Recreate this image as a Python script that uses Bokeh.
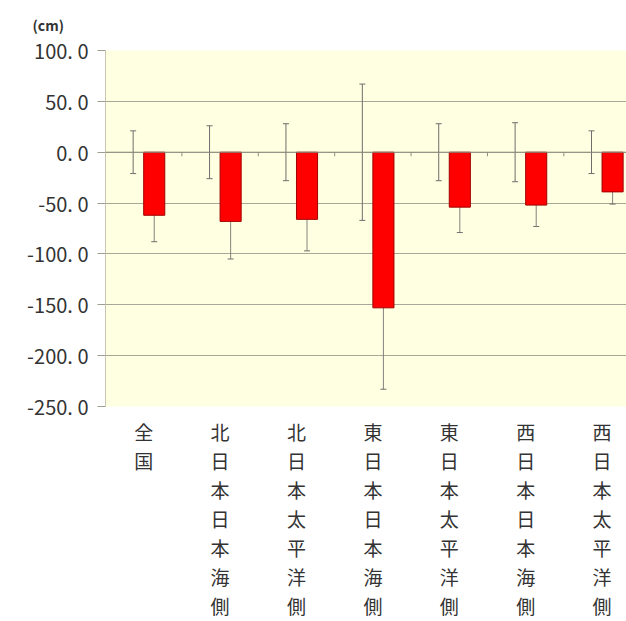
import numpy as np
from bokeh.plotting import figure
from bokeh.models import (ColumnDataSource, Range1d, FixedTicker, Whisker, TeeHead,
                          Span, Title)
from bokeh.embed import file_html
from bokeh.resources import INLINE

# ---- data ----
categories = ["全国", "北日本日本海側", "北日本太平洋側", "東日本日本海側",
              "東日本太平洋側", "西日本日本海側", "西日本太平洋側"]
normal_values = [0, 0, 0, 0, 0, 0, 0]
normal_err = [21, 26, 28, 67, 28, 29, 21]
anomaly_values = [-62, -68, -66, -153, -54, -52, -39]
anomaly_err = [26, 37, 31, 80, 25, 21, 12]
y_ticks = [-250, -200, -150, -100, -50, 0, 50, 100]
y_tick_labels = ["-250. 0", "-200. 0", "-150. 0", "-100. 0", "-50. 0", "0. 0", "50. 0", "100. 0"]
unit_label = "(cm)"

FONT = "Noto Sans CJK JP"
TEXT = "#333333"

idx = np.arange(len(categories)) + 0.5
offset = 0.138
src = ColumnDataSource(dict(
    cat=categories,
    x1=idx - offset,
    x2=idx + offset,
    normal=normal_values,
    n_lo=np.array(normal_values) - np.array(normal_err),
    n_hi=np.array(normal_values) + np.array(normal_err),
    anomaly=anomaly_values,
    a_lo=np.array(anomaly_values) - np.array(anomaly_err),
    a_hi=np.array(anomaly_values) + np.array(anomaly_err),
))

p = figure(width=626, height=621,
           x_range=Range1d(0, 6.82), y_range=Range1d(-250, 100),
           output_backend="svg", toolbar_location=None,
           min_border_left=105, min_border_top=50, min_border_right=0,
           min_border_bottom=215)

p.border_fill_color = "white"
p.background_fill_color = "#FFFFE1"
p.outline_line_color = None

# unit label above the axis
p.add_layout(Title(text=unit_label, align="left", offset=-73, standoff=27,
                   vertical_align="top",
                   text_font=FONT, text_font_size="14px", text_color=TEXT,
                   text_font_style="bold"), "above")

# grid
p.xgrid.grid_line_color = None
p.ygrid.ticker = FixedTicker(ticks=y_ticks)
p.ygrid.grid_line_color = "#A8A898"
p.ygrid.grid_line_width = 1

# y axis
p.yaxis.ticker = FixedTicker(ticks=y_ticks)
p.yaxis.major_label_overrides = {t: l for t, l in zip(y_ticks, y_tick_labels)}
p.yaxis.axis_line_color = "#C8C8B0"
p.yaxis.major_tick_line_color = "#A0A090"
p.yaxis.major_tick_out = 8
p.yaxis.major_tick_in = 0
p.yaxis.minor_tick_line_color = None
p.yaxis.major_label_standoff = 9
p.yaxis.major_label_text_font = FONT
p.yaxis.major_label_text_font_size = "20px"
p.yaxis.major_label_text_color = TEXT

# x axis: category labels written vertically
p.xaxis.ticker = FixedTicker(ticks=list(idx))
p.xaxis.major_label_overrides = {float(x): "\n".join(c) for x, c in zip(idx, categories)}
p.xaxis.axis_line_color = None
p.xaxis.major_tick_line_color = None
p.xaxis.major_tick_out = 0
p.xaxis.major_tick_in = 0
p.xaxis.minor_tick_line_color = None
p.xaxis.major_label_standoff = 11
p.xaxis.major_label_text_font = FONT
p.xaxis.major_label_text_font_size = "19px"
p.xaxis.major_label_text_line_height = 1.075
p.xaxis.major_label_text_color = TEXT
p.xaxis.major_label_text_align = "center"

# zero line and category boundary ticks
p.add_layout(Span(location=0, dimension="width", line_color="#909080", line_width=1))
bounds = np.arange(1, len(categories))
p.segment(x0=bounds, y0=0, x1=bounds, y1=-4, line_color="#909080", line_width=1)

# bars
p.vbar(x="x2", top="anomaly", bottom=0, width=0.276, source=src,
       fill_color="#FF0000", line_color="#A00000", line_width=1)

# error bars
p.add_layout(Whisker(base="x1", lower="n_lo", upper="n_hi", source=src,
                     line_color="#6E6E6E", line_width=1,
                     upper_head=TeeHead(size=6, line_color="#6E6E6E", line_width=1),
                     lower_head=TeeHead(size=6, line_color="#6E6E6E", line_width=1)))
p.add_layout(Whisker(base="x2", lower="a_lo", upper="a_hi", source=src,
                     line_color="#6E6E6E", line_width=1, line_alpha=0.85,
                     upper_head=TeeHead(size=6, line_color="#6E6E6E", line_width=1),
                     lower_head=TeeHead(size=6, line_color="#6E6E6E", line_width=1)))

open("out.html", "w").write(file_html(p, INLINE))
